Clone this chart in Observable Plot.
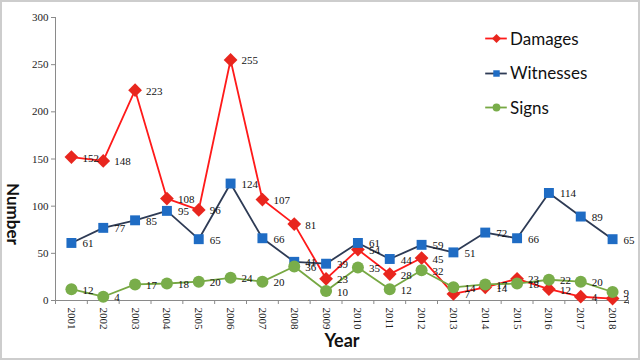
<!DOCTYPE html>
<html><head><meta charset="utf-8">
<script src="https://cdn.jsdelivr.net/npm/d3@7"></script>
<script src="https://cdn.jsdelivr.net/npm/@observablehq/plot@0.6"></script>
<style>
body{margin:0;background:#fff;}
#wrap{position:relative;width:640px;height:360px;overflow:hidden;background:#fff}
#wrap > svg{position:absolute;left:0;top:0}
#frame{position:absolute;left:0;top:0;width:640px;height:360px;box-sizing:border-box;border:2px solid #cdcdcd;pointer-events:none}
#legend{position:absolute;left:484px;top:21px;font-family:Lato, "Open Sans", sans-serif;font-size:17px;color:#111}
.item{display:flex;align-items:center;height:34.5px}
.item svg{margin-right:2px}
</style></head><body>
<div id="wrap"><div id="frame"></div><div id="legend"></div></div>
<script>
const years = [2001,2002,2003,2004,2005,2006,2007,2008,2009,2010,2011,2012,2013,2014,2015,2016,2017,2018];
const damages = [152,148,223,108,96,255,107,81,23,54,28,45,7,14,23,12,4,2];
const witnesses = [61,77,85,95,65,124,66,41,39,61,44,59,51,72,66,114,89,65];
const signs = [12,4,17,18,20,24,20,36,10,35,12,32,14,17,18,22,20,9];
const seriesNames = ["Damages","Witnesses","Signs"];
const lineColors = ["#ff1a1a","#2e3b55","#77a843"];
const markColors = ["#e8261e","#1f6cc4","#79ad4a"];
const symbols = ["diamond2","square","circle"];
const markR = [6.2,5.6,6];
const yTicks = [0,50,100,150,200,250,300];

const seriesValues = [damages, witnesses, signs];
const rows = [];
seriesValues.forEach((vals, s) => vals.forEach((v, i) => rows.push({year: years[i], value: v, series: seriesNames[s], s})));
const bounds = years.map(y => y - 0.5).concat([years[years.length - 1] + 0.5]);

const marks = [
  Plot.ruleY([0], {stroke: "#8a8a8a"}),
  Plot.ruleX([bounds[0]], {stroke: "#8a8a8a"}),
  Plot.axisY({ticks: yTicks, tickSize: 4, tickPadding: 3, label: null, stroke: "#8a8a8a", color: "#222"}),
  Plot.axisX({ticks: bounds, tickSize: 4, tickFormat: () => "", label: null, stroke: "#8a8a8a"}),
  Plot.axisX({ticks: years, tickSize: 0, tickPadding: 7, tickRotate: 90, tickFormat: d => String(d), label: null, color: "#222"}),
];
seriesNames.forEach((name, s) => {
  const d = rows.filter(r => r.s === s);
  marks.push(Plot.line(d, {x: "year", y: "value", stroke: lineColors[s], strokeWidth: 1.8}));
});
seriesNames.forEach((name, s) => {
  const d = rows.filter(r => r.s === s);
  marks.push(Plot.dot(d, {x: "year", y: "value", symbol: symbols[s], r: markR[s], fill: markColors[s], stroke: "none"}));
});
seriesNames.forEach((name, s) => {
  const d = rows.filter(r => r.s === s);
  marks.push(Plot.text(d, {x: "year", y: "value", text: d => String(d.value), textAnchor: "start", dx: 11, dy: 1, fontSize: 11, fill: "#111"}));
});
marks.push(Plot.text(["Number"], {frameAnchor: "left", dx: -43, dy: 24, rotate: 90, fontFamily: "Lato", fontWeight: "bold", fontSize: 17, fill: "#111"}));
marks.push(Plot.text(["Year"], {frameAnchor: "bottom", dy: 46, fontFamily: "Lato", fontWeight: "bold", fontSize: 18, fill: "#111"}));

const chart = Plot.plot({
  width: 640, height: 360,
  marginLeft: 55, marginRight: 12, marginTop: 17, marginBottom: 60,
  x: {type: "linear", domain: [bounds[0], bounds[bounds.length - 1]]},
  y: {domain: [0, 300]},
  style: {background: "transparent", overflow: "visible", fontFamily: "'Liberation Serif', 'Times New Roman', serif", fontSize: "11px"},
  marks
});
const wrap = document.getElementById("wrap");
wrap.insertBefore(chart, wrap.firstChild);

const legend = document.getElementById("legend");
seriesNames.forEach((name, s) => {
  const item = document.createElement("div");
  item.className = "item";
  const sw = Plot.plot({
    width: 24, height: 16, margin: 0,
    x: {domain: [0, 1], axis: null}, y: {domain: [0, 1], axis: null},
    style: {background: "transparent", overflow: "visible"},
    marks: [
      Plot.ruleY([0.5], {x1: 0.05, x2: 0.95, stroke: lineColors[s], strokeWidth: 1.8}),
      Plot.dot([0.5], {x: d => d, y: 0.5, symbol: symbols[s], r: markR[s] * 0.65, fill: markColors[s]})
    ]
  });
  item.appendChild(sw);
  const t = document.createElement("span");
  t.textContent = name;
  item.appendChild(t);
  legend.appendChild(item);
});
</script>
</body></html>
